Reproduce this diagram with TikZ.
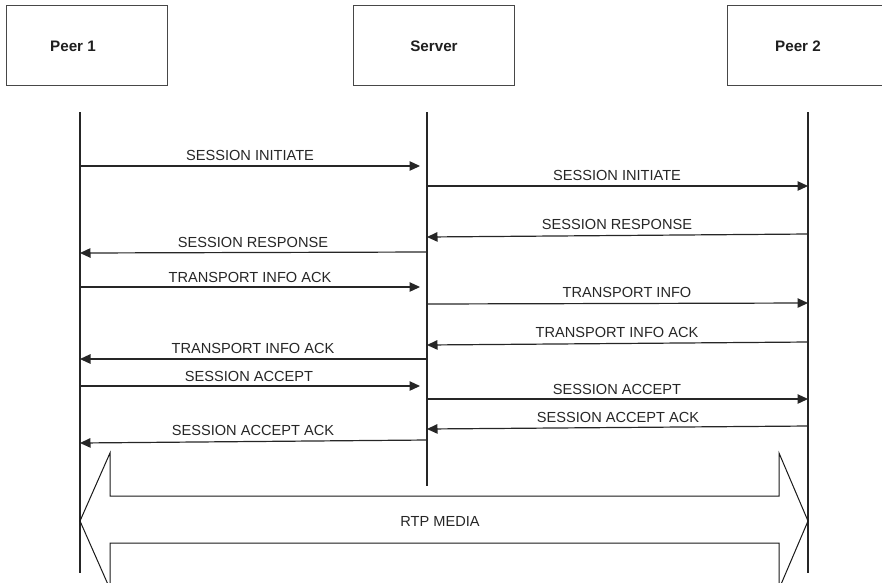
\documentclass[tikz,border=0pt]{standalone}
\usepackage{fontspec}
\setmainfont{Liberation Sans}
\usetikzlibrary{arrows.meta}
\begin{document}
\begin{tikzpicture}[x=1pt,y=-1pt,
  hdrbox/.style={draw=black!72, line width=1.1pt, minimum width=161pt, minimum height=80pt, inner sep=0pt, anchor=north west},
  hdr/.style={font=\fontsize{15.2}{18}\selectfont\bfseries, text=black!88, inner sep=0pt},
  lifeline/.style={line width=2pt, draw=black!85},
  msg/.style={line width=1.2pt, draw=black!85, -{Triangle[length=10.5pt,width=9.5pt]}},
  msglbl/.style={font=\fontsize{14.6}{17}\selectfont, text=black!85, inner sep=0pt},
  media/.style={draw=black!90, line width=1pt, line join=miter}
]
\useasboundingbox (0,0) rectangle (882,582);
\clip (0,0) rectangle (882,582);

% header boxes
\node[hdrbox] (p1box) at (6,5) {};
\node[hdrbox] (srvbox) at (353,5) {};
\node[hdrbox] (p2box) at (727,5) {};
\node[hdr] (p1lbl) at (73,46) {Peer 1};
\node[hdr] (srvlbl) at (434,46) {Server};
\node[hdr] (p2lbl) at (798,46) {Peer 2};

% lifelines
\coordinate (p1top) at (80,112);
\coordinate (p1bot) at (80,573);
\coordinate (svtop) at (427,112);
\coordinate (svbot) at (427,486);
\coordinate (p2top) at (808,112);
\coordinate (p2bot) at (808,573);
\draw[lifeline] (p1top) -- (p1bot);
\draw[lifeline] (svtop) -- (svbot);
\draw[lifeline] (p2top) -- (p2bot);

% message endpoints
\coordinate (m1s) at (80,166);   \coordinate (m1e) at (420,166);
\coordinate (m2s) at (427,186);  \coordinate (m2e) at (808,186);
\coordinate (m3s) at (808,234);  \coordinate (m3e) at (427,237);
\coordinate (m4s) at (427,252);  \coordinate (m4e) at (80,253);
\coordinate (m5s) at (80,287);   \coordinate (m5e) at (420,287);
\coordinate (m6s) at (427,304);  \coordinate (m6e) at (808,303);
\coordinate (m7s) at (808,342);  \coordinate (m7e) at (427,345);
\coordinate (m8s) at (427,359);  \coordinate (m8e) at (80,359);
\coordinate (m9s) at (80,386);   \coordinate (m9e) at (420,386);
\coordinate (m10s) at (427,399); \coordinate (m10e) at (808,399);
\coordinate (m11s) at (808,426); \coordinate (m11e) at (427,429);
\coordinate (m12s) at (427,440); \coordinate (m12e) at (80,443);

\foreach \i in {1,...,12} {\draw[msg] (m\i s) -- (m\i e);}

% message labels
\node[msglbl] (l1) at (250,155) {SESSION INITIATE};
\node[msglbl] (l2) at (617,175) {SESSION INITIATE};
\node[msglbl] (l3) at (617,224) {SESSION RESPONSE};
\node[msglbl] (l4) at (253,242) {SESSION RESPONSE};
\node[msglbl] (l5) at (250,277) {TRANSPORT INFO ACK};
\node[msglbl] (l6) at (627,292) {TRANSPORT INFO};
\node[msglbl] (l7) at (617,332) {TRANSPORT INFO ACK};
\node[msglbl] (l8) at (253,348) {TRANSPORT INFO ACK};
\node[msglbl] (l9) at (249,376) {SESSION ACCEPT};
\node[msglbl] (l10) at (617,389) {SESSION ACCEPT};
\node[msglbl] (l11) at (618,417) {SESSION ACCEPT ACK};
\node[msglbl] (l12) at (253,430) {SESSION ACCEPT ACK};

% RTP media double arrow
\draw[media] (80,521) -- (110,453) -- (110,496) -- (779,496) -- (779,453) -- (808,521)
  -- (779,589) -- (779,543) -- (110,543) -- (110,589) -- cycle;
\node[msglbl] (rtp) at (440,521) {RTP MEDIA};
\end{tikzpicture}
\end{document}
